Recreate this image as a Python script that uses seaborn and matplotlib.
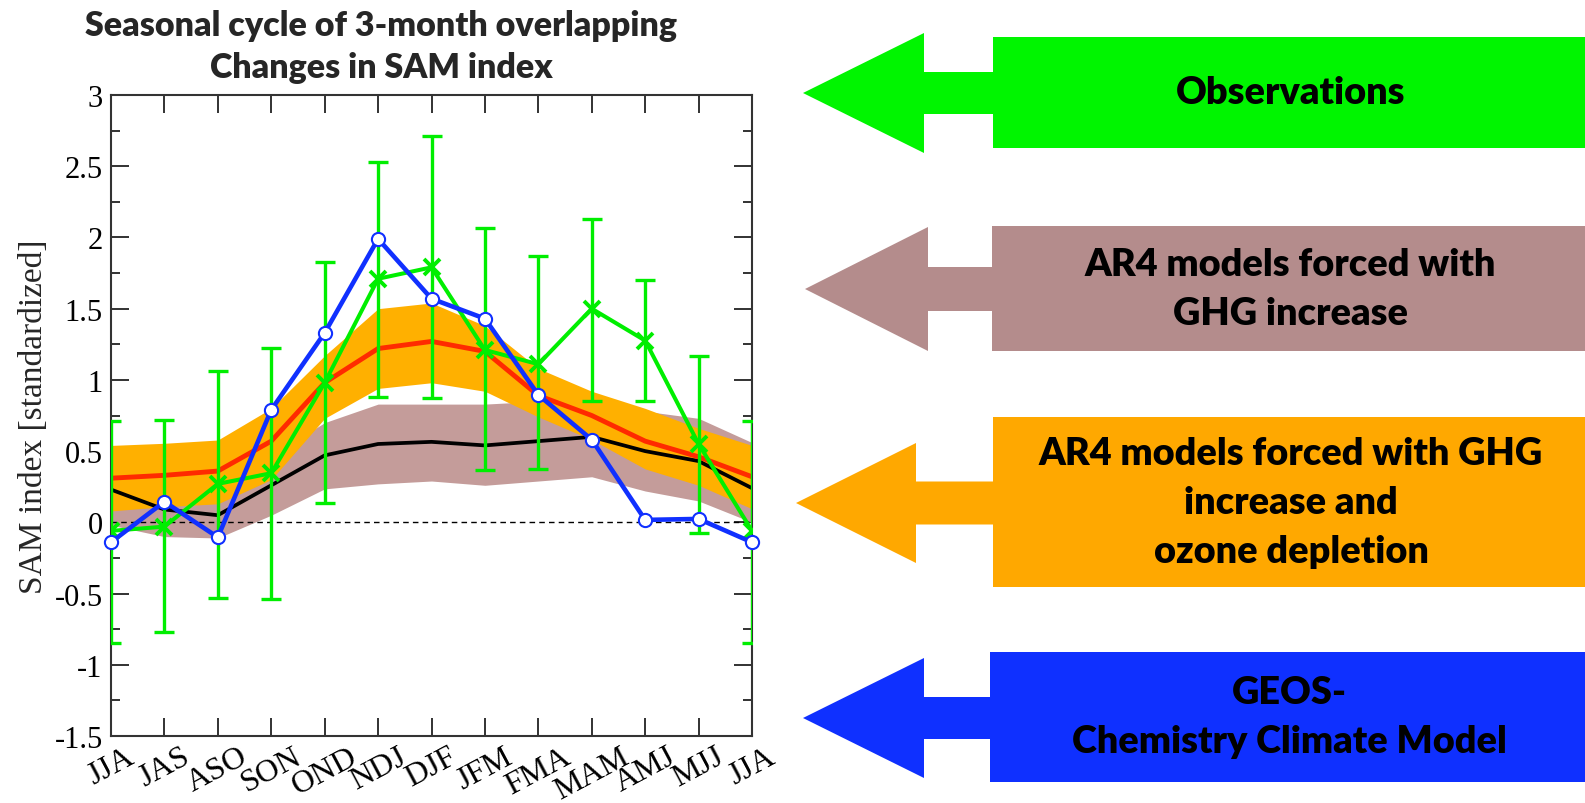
import numpy as np
import pandas as pd
import matplotlib
matplotlib.use("Agg")
import matplotlib.pyplot as plt
from matplotlib.patches import Polygon
from matplotlib.ticker import MultipleLocator, FuncFormatter
import seaborn as sns

# ---- data: 3-month overlapping seasons, SAM index changes (standardized) ----
seasons = ["JJA", "JAS", "ASO", "SON", "OND", "NDJ", "DJF",
           "JFM", "FMA", "MAM", "AMJ", "MJJ", "JJA"]

# AR4 models, GHG increase only (mean and spread)
ghg_mean = [0.23, 0.09, 0.05, 0.26, 0.47, 0.55, 0.565, 0.54, 0.57, 0.60, 0.50, 0.43, 0.24]
ghg_low = [-0.02, -0.10, -0.11, 0.05, 0.235, 0.27, 0.29, 0.26, 0.29, 0.32, 0.22, 0.15, 0.00]
ghg_high = [0.50, 0.30, 0.22, 0.47, 0.70, 0.83, 0.83, 0.83, 0.85, 0.86, 0.78, 0.73, 0.56]

# AR4 models, GHG increase + ozone depletion (mean and spread)
oz_mean = [0.31, 0.33, 0.36, 0.57, 0.98, 1.22, 1.27, 1.20, 0.89, 0.75, 0.57, 0.46, 0.32]
oz_low = [0.08, 0.11, 0.13, 0.30, 0.73, 0.94, 0.98, 0.92, 0.74, 0.58, 0.375, 0.26, 0.095]
oz_high = [0.54, 0.555, 0.578, 0.80, 1.17, 1.50, 1.54, 1.38, 1.08, 0.92, 0.80, 0.66, 0.54]

# Observations with uncertainty range
obs = [-0.06, -0.03, 0.27, 0.345, 0.98, 1.71, 1.79, 1.21, 1.11, 1.50, 1.276, 0.55, -0.06]
obs_low = [-0.85, -0.77, -0.53, -0.54, 0.135, 0.88, 0.87, 0.37, 0.375, 0.85, 0.85, -0.075, -0.85]
obs_high = [0.71, 0.72, 1.065, 1.225, 1.83, 2.53, 2.71, 2.065, 1.87, 2.13, 1.70, 1.17, 0.71]

# GEOS Chemistry Climate Model
geos = [-0.14, 0.145, -0.105, 0.79, 1.33, 1.99, 1.57, 1.43, 0.895, 0.58, 0.017, 0.024, -0.14]

yticks = [-1.5, -1, -0.5, 0, 0.5, 1, 1.5, 2, 2.5, 3]

title_lines = ["Seasonal cycle of 3-month overlapping", "Changes in SAM index"]
ylabel = "SAM index [standardized]"

# key boxes (text lines, fill colour)
key_labels = [["Observations"],
              ["AR4 models forced with", "GHG increase"],
              ["AR4 models forced with GHG", "increase and", "ozone depletion"],
              ["GEOS-", "Chemistry Climate Model"]]
key_colors = ["#00F500", "#B48C8C", "#FFA800", "#0F30FF"]

# ---- colours ----
c_brown_band = "#C49C9A"
c_orange_band = "#FFB000"
c_red = "#FF2A00"
c_green = "#00EE00"
c_blue = "#1030FF"

sns.set_theme(style="ticks")
plt.rcParams["font.family"] = ["Liberation Serif", "DejaVu Serif"]
plt.rcParams["axes.unicode_minus"] = False

W, H = 1585, 804
fig = plt.figure(figsize=(W / 100, H / 100), dpi=100)
fig.patch.set_facecolor("white")

ax = fig.add_axes([111 / W, 1 - 737 / H, 641 / W, 641 / H])
ax.set_facecolor("white")

pos = np.arange(len(seasons))
df = pd.DataFrame({"pos": pos, "ghg": ghg_mean, "oz": oz_mean,
                   "obs": obs, "geos": geos})

ax.fill_between(pos, ghg_low, ghg_high, color=c_brown_band, lw=0, zorder=1)
ax.fill_between(pos, oz_low, oz_high, color=c_orange_band, lw=0, zorder=2)
ax.axhline(0, color="black", lw=1.0, ls=(0, (4, 3)), zorder=3)

sns.lineplot(data=df, x="pos", y="ghg", color="black", lw=2.7, ax=ax, zorder=4)
sns.lineplot(data=df, x="pos", y="oz", color=c_red, lw=3.5, ax=ax, zorder=5)

obs_arr = np.array(obs)
yerr = [obs_arr - np.array(obs_low), np.array(obs_high) - obs_arr]
ax.errorbar(pos, obs_arr, yerr=yerr, fmt="none", ecolor=c_green,
            elinewidth=2.4, capsize=7, capthick=2.4, zorder=6)
sns.lineplot(data=df, x="pos", y="obs", color=c_green, lw=2.9, marker="x",
             markersize=11, markeredgewidth=2.8, markeredgecolor=c_green,
             ax=ax, zorder=7)
sns.lineplot(data=df, x="pos", y="geos", color=c_blue, lw=3.3, marker="o",
             markersize=9.5, markerfacecolor="white", markeredgecolor=c_blue,
             markeredgewidth=1.5, ax=ax, zorder=8, clip_on=False)

ax.set_xlim(0, len(seasons) - 1)
ax.set_ylim(-1.5, 3)
ax.set_xticks(pos)
ax.set_xticklabels(seasons, rotation=28, ha="center", va="top")
ax.set_yticks(yticks)
ax.yaxis.set_minor_locator(MultipleLocator(0.25))
ax.yaxis.set_major_formatter(FuncFormatter(lambda v, p: f"{v:g}"))
ax.tick_params(axis="both", which="both", direction="in", top=True,
               right=True, width=1.3, color="#222222", labelcolor="black")
ax.tick_params(axis="both", which="major", length=13)
ax.tick_params(axis="y", which="minor", length=6.5)
ax.tick_params(axis="y", which="major", pad=6, labelsize=22)
ax.tick_params(axis="x", which="major", pad=4, labelsize=23)
ax.set_xlabel("")
ax.set_ylabel(ylabel, fontsize=24, labelpad=4)
for sp in ax.spines.values():
    sp.set_visible(True)
    sp.set_linewidth(1.5)
    sp.set_color("#333333")

# ---- title ----
bold_sans = ["Lato", "DejaVu Sans"]
renderer = fig.canvas.get_renderer()


def fit_width(txt, target_px):
    bb = txt.get_window_extent(renderer)
    txt.set_fontsize(txt.get_fontsize() * target_px / bb.width)
    return txt.get_fontsize()


t1 = fig.text(381 / W, 1 - 26 / H, title_lines[0], ha="center", va="center",
              family=bold_sans, weight="heavy", fontsize=22)
title_size = fit_width(t1, 591)
fig.text(381 / W, 1 - 68 / H, title_lines[1], ha="center", va="center",
         family=bold_sans, weight="heavy", fontsize=title_size)

# ---- key arrows (pixel layout of an overlay axes) ----
ov = fig.add_axes([0, 0, 1, 1])
ov.set_xlim(0, W)
ov.set_ylim(H, 0)
ov.axis("off")

# per arrow: tip x, head base x, body left x, centre y,
# head half-height, shaft half-height, body top, body bottom
arrow_tip_x = [803, 805, 796, 803]
arrow_head_x = [924, 928, 916, 924]
arrow_body_x = [993, 992, 993, 990]
arrow_cy = [94, 290, 504, 719]
arrow_head_half = [60, 62, 60, 60]
arrow_shaft_half = [21, 22, 21.5, 21]
box_top = [38, 227, 418, 653]
box_bottom = [149, 352, 588, 783]
line_gap = 49

probe = ov.text(0, -100, key_labels[2][0], family=bold_sans, weight="heavy",
                fontsize=24)
key_size = fit_width(probe, 506)
probe.remove()

for i in range(len(key_labels)):
    tx, hx, bx, cy = arrow_tip_x[i], arrow_head_x[i], arrow_body_x[i], arrow_cy[i]
    hh, sh = arrow_head_half[i], arrow_shaft_half[i]
    verts = [(tx, cy), (hx, cy - hh), (hx, cy - sh), (bx, cy - sh),
             (bx, box_top[i]), (W, box_top[i]), (W, box_bottom[i]),
             (bx, box_bottom[i]), (bx, cy + sh), (hx, cy + sh), (hx, cy + hh)]
    ov.add_patch(Polygon(verts, closed=True, facecolor=key_colors[i],
                         edgecolor="none"))
    cx = (bx + W) / 2 + 2
    mid = (box_top[i] + box_bottom[i]) / 2
    n = len(key_labels[i])
    for j, line in enumerate(key_labels[i]):
        yy = mid + (j - (n - 1) / 2) * line_gap
        ov.text(cx, yy, line, ha="center", va="center", family=bold_sans,
                weight="heavy", fontsize=key_size, color="black")

fig.savefig("out.png", dpi=100, facecolor="white")
